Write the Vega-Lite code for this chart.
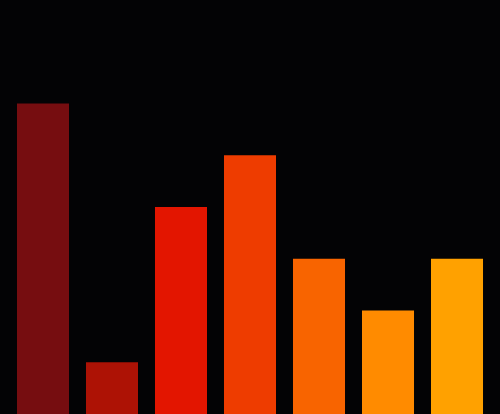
{
  "$schema": "https://vega.github.io/schema/vega-lite/v6.json",
  "autosize": {"type": "fit", "contains": "padding"},
  "width": 500,
  "height": 414,
  "padding": 0,
  "background": "#030305",
  "config": {"view": {"stroke": null}},
  "data": {
    "values": [
      {"cat": "A", "value": 6, "color": "#760d10"},
      {"cat": "B", "value": 1, "color": "#ad1205"},
      {"cat": "C", "value": 4, "color": "#e31500"},
      {"cat": "D", "value": 5, "color": "#ee3c00"},
      {"cat": "E", "value": 3, "color": "#f86400"},
      {"cat": "F", "value": 2, "color": "#ff8b00"},
      {"cat": "G", "value": 3, "color": "#ffa100"}
    ]
  },
  "mark": {"type": "bar"},
  "encoding": {
    "x": {"field": "cat", "type": "nominal", "axis": null, "sort": null, "scale": {"paddingInner": 0.246, "paddingOuter": 0.246}},
    "y": {"field": "value", "type": "quantitative", "axis": null, "scale": {"domain": [0, 8], "nice": false}},
    "color": {"field": "color", "type": "nominal", "scale": null, "legend": null}
  }
}
